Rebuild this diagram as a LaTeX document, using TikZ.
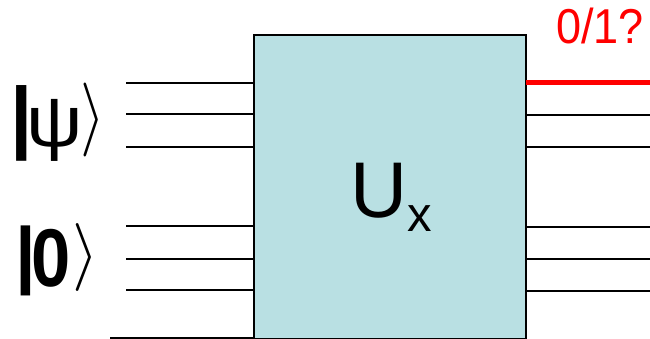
\documentclass[tikz,border=0pt]{standalone}
\usepackage{fontspec}
\usepackage{graphicx}
\setmainfont{Liberation Sans}
\definecolor{boxfill}{RGB}{185,224,227}
\definecolor{qred}{RGB}{255,0,0}
\tikzset{
  wire/.style={line width=2pt, black},
  redwire/.style={line width=5pt, qred},
  gate/.style={draw=black, line width=2pt, fill=boxfill, inner sep=0pt, outer sep=0pt},
  lbl/.style={inner sep=0pt, outer sep=0pt, anchor=base west},
}
\newcommand{\glyphat}[3]{\makebox[0pt][l]{\hspace*{#1}\raisebox{#2}{#3}}}
\begin{document}
\begin{tikzpicture}[x=1pt,y=-1pt]
\useasboundingbox (0,0) rectangle (650,339);
\path[gate] (254,34.7) rectangle (525.5,338.5);
\node[gate, draw=none, fill=none, minimum width=271.5pt, minimum height=303.8pt] (box) at (389.75,186.6) {};
% left wire ends
\coordinate (l1) at (126,82.7);
\coordinate (l2) at (126,114.3);
\coordinate (l3) at (126,146.7);
\coordinate (l4) at (126,225.7);
\coordinate (l5) at (126,258.7);
\coordinate (l6) at (126,290.3);
\coordinate (lb) at (110,337.5);
% right wire ends
\coordinate (r1) at (650,82.7);
\coordinate (r2) at (650,114.7);
\coordinate (r3) at (650,146.7);
\coordinate (r4) at (650,226.7);
\coordinate (r5) at (650,258.7);
\coordinate (r6) at (650,290.7);
\foreach \i in {1,...,6} {\draw[wire] (l\i) -- (box.west |- l\i);}
\draw[wire] (lb) -- (box.west |- lb);
\draw[redwire] (box.east |- r1) -- (r1);
\foreach \i in {2,...,6} {\draw[wire] (box.east |- r\i) -- (r\i);}
% labels
\node[lbl] (ux) at (350.5,217.3) {\fontsize{79}{79}\selectfont U\raisebox{-14.4pt}{\fontsize{49}{49}\selectfont x}};
\node[lbl, text=qred] (meas) at (556,43.3) {\scalebox{0.92}[1]{\fontsize{49}{49}\selectfont 0/1?}};
\node[lbl] (psi) at (0,143.3) {%
  \glyphat{10pt}{0pt}{\fontsize{80}{80}\selectfont\bfseries |}%
  \glyphat{26pt}{-3pt}{\scalebox{1.1}[1]{\fontsize{72}{72}\selectfont ψ}}%
  \glyphat{81pt}{5pt}{\scalebox{6.4}[7.4]{$\rangle$}}\hspace*{104pt}};
\node[lbl] (zero) at (0,279) {%
  \glyphat{15pt}{0pt}{\fontsize{74}{74}\selectfont\bfseries |}%
  \glyphat{31pt}{-7pt}{\scalebox{0.86}[1]{\fontsize{82}{82}\selectfont\bfseries 0}}%
  \glyphat{73pt}{5pt}{\scalebox{6.8}{$\rangle$}}\hspace*{97pt}};
\end{tikzpicture}
\end{document}
